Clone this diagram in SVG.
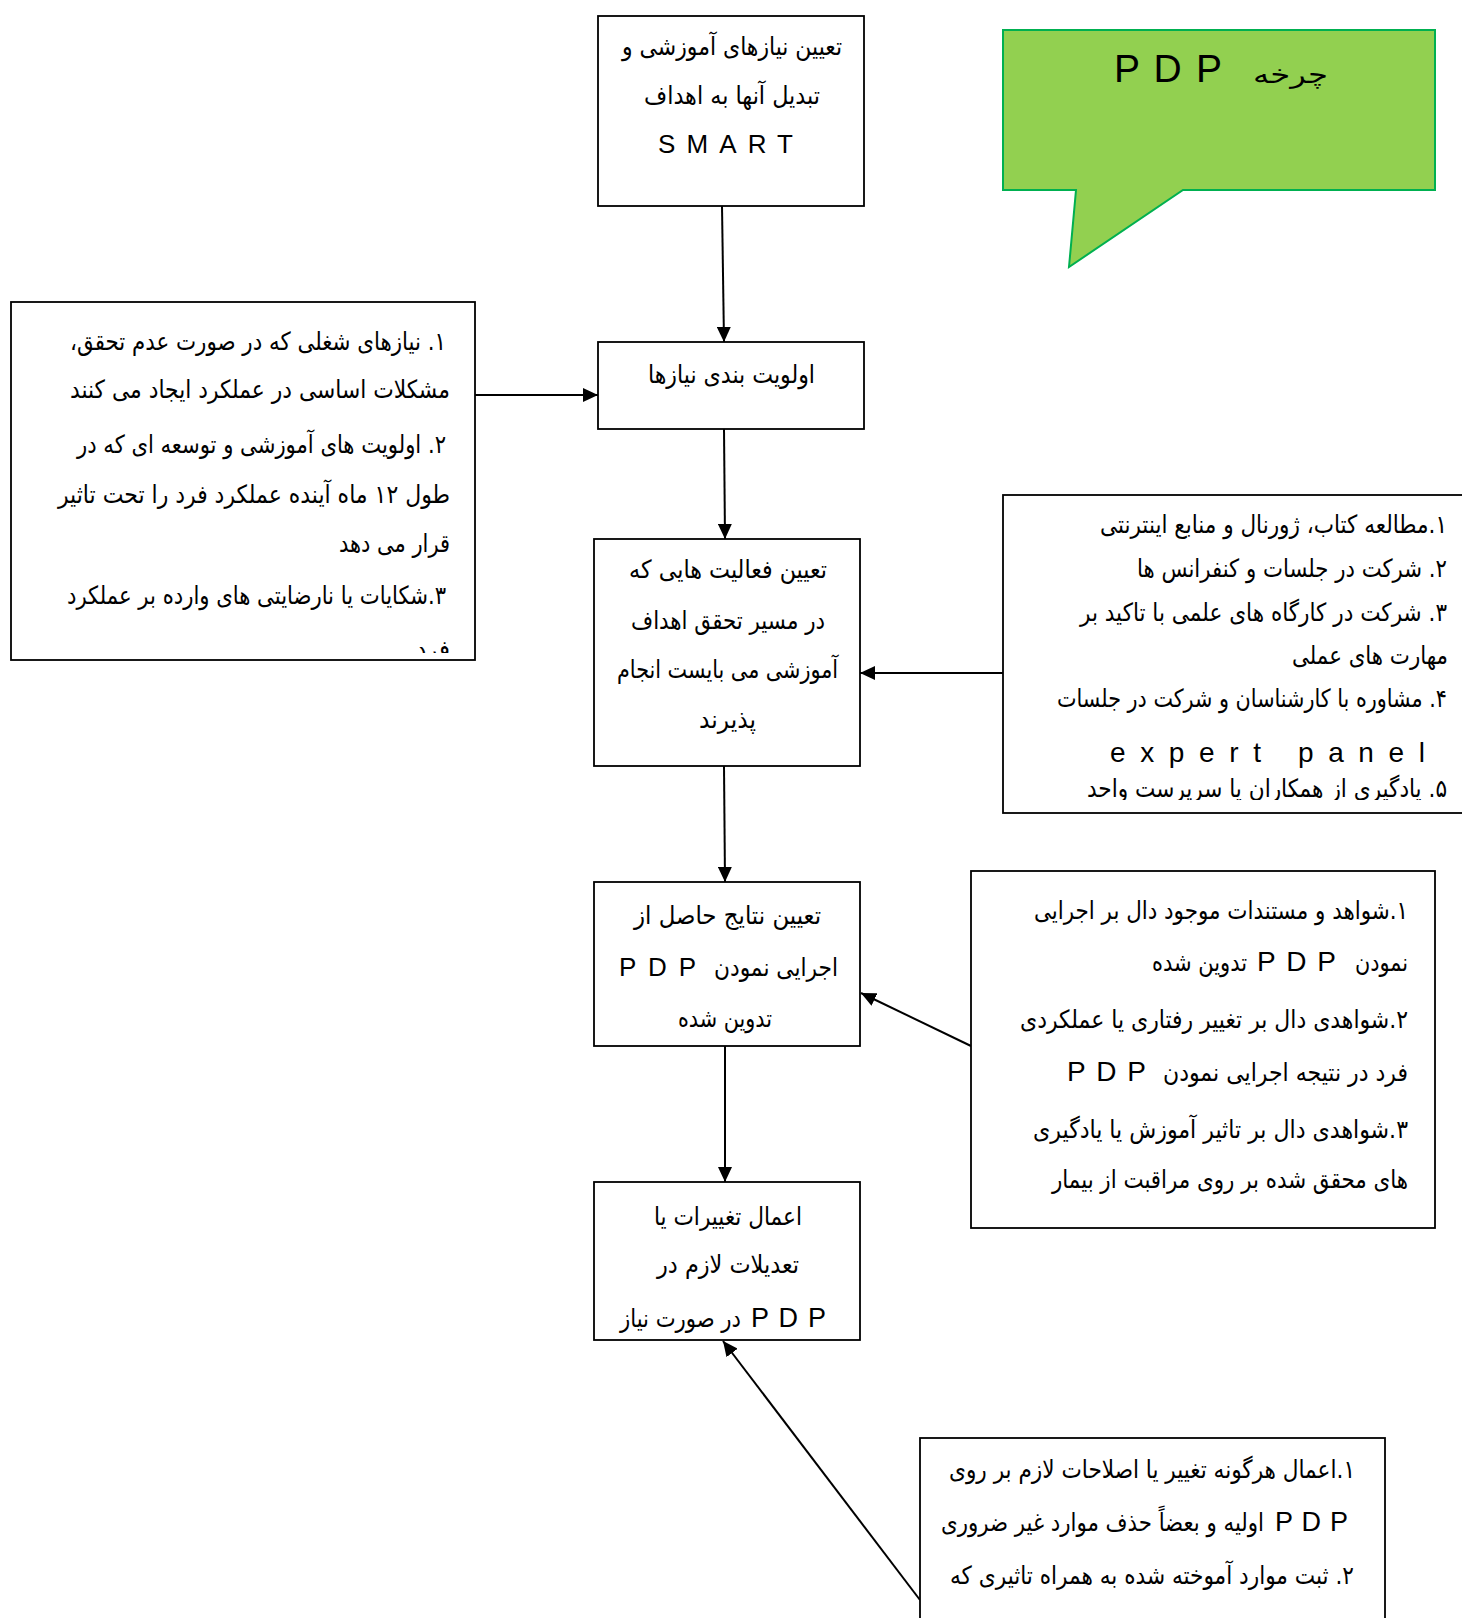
<svg xmlns="http://www.w3.org/2000/svg" width="1462" height="1618" viewBox="0 0 1462 1618">
<style>
.box{fill:#fff;stroke:#000;stroke-width:1.8}
.fa{font-family:"DejaVu Sans",sans-serif;font-size:25px;fill:#000;direction:rtl;unicode-bidi:embed;text-anchor:start}
.la{font-family:"Liberation Sans",Arial,sans-serif;fill:#000;text-anchor:start}
.con{stroke:#000;stroke-width:2;fill:none;marker-end:url(#ah)}
</style>
<defs>
<marker id="ah" viewBox="0 0 15 14" refX="15" refY="7" markerWidth="15" markerHeight="14" markerUnits="userSpaceOnUse" orient="auto">
<path d="M0,0 L15,7 L0,14 Z" fill="#000"/>
</marker>
<clipPath id="cLeft"><rect x="12" y="303" width="462" height="350"/></clipPath>
<clipPath id="cR1"><rect x="1004" y="496" width="460" height="304"/></clipPath>
</defs>
<rect width="1462" height="1618" fill="#fff"/>

<g id="callout">
<path d="M1003,30 H1435 V190 H1183 L1069,267 L1076,190 H1003 Z" fill="#92D050" stroke="#00B050" stroke-width="2"/>
<text class="la" x="1114" y="82" font-size="39" textLength="108" lengthAdjust="spacing">P D P</text>
<text class="fa" x="1328" y="83" font-size="42" textLength="75" lengthAdjust="spacingAndGlyphs">چرخه</text>
</g>

<g id="connectors">
<line class="con" x1="722" y1="206" x2="724" y2="342"/>
<line class="con" x1="475" y1="395" x2="598" y2="395"/>
<line class="con" x1="724" y1="429" x2="725" y2="539"/>
<line class="con" x1="1003" y1="673" x2="860" y2="673"/>
<line class="con" x1="724" y1="766" x2="725" y2="882"/>
<line class="con" x1="971" y1="1046" x2="861" y2="993"/>
<line class="con" x1="725" y1="1046" x2="725" y2="1182"/>
<line class="con" x1="920" y1="1600" x2="723" y2="1341"/>
</g>

<g id="n-smart">
<rect class="box" x="598" y="16" width="266" height="190"/>
<text class="fa" x="842" y="55" textLength="220" lengthAdjust="spacingAndGlyphs">تعیین نیازهای آموزشی و</text>
<text class="fa" x="820" y="104" textLength="176" lengthAdjust="spacingAndGlyphs">تبدیل آنها به اهداف</text>
<text class="la" x="658" y="153" font-size="26" textLength="135" lengthAdjust="spacing">SMART</text>
</g>

<g id="n-priority">
<rect class="box" x="598" y="342" width="266" height="87"/>
<text class="fa" x="815" y="383" textLength="167" lengthAdjust="spacingAndGlyphs">اولویت بندی نیازها</text>
</g>

<g id="n-criteria">
<rect class="box" x="11" y="302" width="464" height="358"/>
<text class="fa" x="446" y="350" textLength="376" lengthAdjust="spacingAndGlyphs">۱. نیازهای شغلی که در صورت عدم تحقق،</text>
<text class="fa" x="450" y="398" textLength="380" lengthAdjust="spacingAndGlyphs">مشکلات اساسی در عملکرد ایجاد می کنند</text>
<text class="fa" x="446" y="453" textLength="369" lengthAdjust="spacingAndGlyphs">۲. اولویت های آموزشی و توسعه ای که در</text>
<text class="fa" x="450" y="503" textLength="392" lengthAdjust="spacingAndGlyphs">طول  ۱۲ ماه آینده عملکرد فرد را تحت تاثیر</text>
<text class="fa" x="450" y="552" textLength="111" lengthAdjust="spacingAndGlyphs">قرار می دهد</text>
<text class="fa" x="446" y="604" textLength="379" lengthAdjust="spacingAndGlyphs">۳.شکایات یا نارضایتی های وارده بر عملکرد</text>
<g clip-path="url(#cLeft)">
<text class="fa" x="450" y="658" textLength="34" lengthAdjust="spacingAndGlyphs">فرد</text>
</g>
</g>

<g id="n-activities">
<rect class="box" x="594" y="539" width="266" height="227"/>
<text class="fa" x="827" y="578" textLength="198" lengthAdjust="spacingAndGlyphs">تعیین فعالیت هایی که</text>
<text class="fa" x="825" y="629" textLength="194" lengthAdjust="spacingAndGlyphs">در مسیر تحقق اهداف</text>
<text class="fa" x="838" y="678" textLength="221" lengthAdjust="spacingAndGlyphs">آموزشی می بایست انجام</text>
<text class="fa" x="756" y="728" textLength="57" lengthAdjust="spacingAndGlyphs">پذیرند</text>
</g>

<g id="n-methods">
<rect class="box" x="1003" y="495" width="470" height="318"/>
<text class="fa" x="1447" y="533" textLength="347" lengthAdjust="spacingAndGlyphs">۱.مطالعه کتاب، ژورنال و منابع اینترنتی</text>
<text class="fa" x="1447" y="577" textLength="310" lengthAdjust="spacingAndGlyphs">۲. شرکت در جلسات و کنفرانس ها</text>
<text class="fa" x="1447" y="621" textLength="367" lengthAdjust="spacingAndGlyphs">۳. شرکت در کارگاه های علمی با تاکید بر</text>
<text class="fa" x="1448" y="664" textLength="156" lengthAdjust="spacingAndGlyphs">مهارت های عملی</text>
<text class="fa" x="1447" y="707" textLength="390" lengthAdjust="spacingAndGlyphs">۴. مشاوره با کارشناسان و شرکت در جلسات</text>
<text class="la" x="1110" y="762" font-size="28" textLength="315" lengthAdjust="spacing">expert panel</text>
<g clip-path="url(#cR1)">
<text class="fa" x="1447" y="797" textLength="360" lengthAdjust="spacingAndGlyphs">۵. یادگیری از همکاران یا سرپرست واحد</text>
</g>
</g>

<g id="n-results">
<rect class="box" x="594" y="882" width="266" height="164"/>
<text class="fa" x="821" y="924" textLength="187" lengthAdjust="spacingAndGlyphs">تعیین نتایج حاصل از</text>
<text class="fa" x="838" y="976" textLength="124" lengthAdjust="spacingAndGlyphs">اجرایی نمودن</text>
<text class="la" x="619" y="976" font-size="26" textLength="77" lengthAdjust="spacing">P D P</text>
<text class="fa" x="772" y="1027" textLength="94" lengthAdjust="spacingAndGlyphs">تدوین شده</text>
</g>

<g id="n-evidence">
<rect class="box" x="971" y="871" width="464" height="357"/>
<text class="fa" x="1408" y="919" textLength="374" lengthAdjust="spacingAndGlyphs">۱.شواهد و مستندات موجود دال بر اجرایی</text>
<text class="fa" x="1408" y="971" textLength="53" lengthAdjust="spacingAndGlyphs">نمودن</text>
<text class="la" x="1257" y="971" font-size="28" textLength="79" lengthAdjust="spacing">P D P</text>
<text class="fa" x="1247" y="971" textLength="95" lengthAdjust="spacingAndGlyphs">تدوین شده</text>
<text class="fa" x="1408" y="1028" textLength="388" lengthAdjust="spacingAndGlyphs">۲.شواهدی دال بر تغییر رفتاری یا عملکردی</text>
<text class="fa" x="1408" y="1081" textLength="245" lengthAdjust="spacingAndGlyphs">فرد در نتیجه اجرایی نمودن</text>
<text class="la" x="1067" y="1081" font-size="28" textLength="79" lengthAdjust="spacing">P D P</text>
<text class="fa" x="1408" y="1138" textLength="375" lengthAdjust="spacingAndGlyphs">۳.شواهدی دال بر تاثیر آموزش یا یادگیری</text>
<text class="fa" x="1408" y="1188" textLength="356" lengthAdjust="spacingAndGlyphs">های محقق شده بر روی مراقبت از بیمار</text>
</g>

<g id="n-changes">
<rect class="box" x="594" y="1182" width="266" height="158"/>
<text class="fa" x="802" y="1225" textLength="148" lengthAdjust="spacingAndGlyphs">اعمال تغییرات یا</text>
<text class="fa" x="799" y="1273" textLength="142" lengthAdjust="spacingAndGlyphs">تعدیلات لازم در</text>
<text class="fa" x="741" y="1327" font-size="21" textLength="121" lengthAdjust="spacingAndGlyphs">در صورت نیاز</text>
<text class="la" x="751" y="1327" font-size="27" textLength="75" lengthAdjust="spacing">P D P</text>
</g>

<g id="n-revise">
<rect class="box" x="920" y="1438" width="465" height="190"/>
<text class="fa" x="1355" y="1478" textLength="406" lengthAdjust="spacingAndGlyphs">۱.اعمال هرگونه تغییر یا اصلاحات لازم بر روی</text>
<text class="la" x="1275" y="1531" font-size="27" textLength="73" lengthAdjust="spacing">P D P</text>
<text class="fa" x="1264" y="1531" textLength="323" lengthAdjust="spacingAndGlyphs">اولیه و بعضاً حذف موارد غیر ضروری</text>
<text class="fa" x="1354" y="1584" textLength="404" lengthAdjust="spacingAndGlyphs">۲. ثبت موارد آموخته شده به همراه تاثیری که</text>
</g>
</svg>
